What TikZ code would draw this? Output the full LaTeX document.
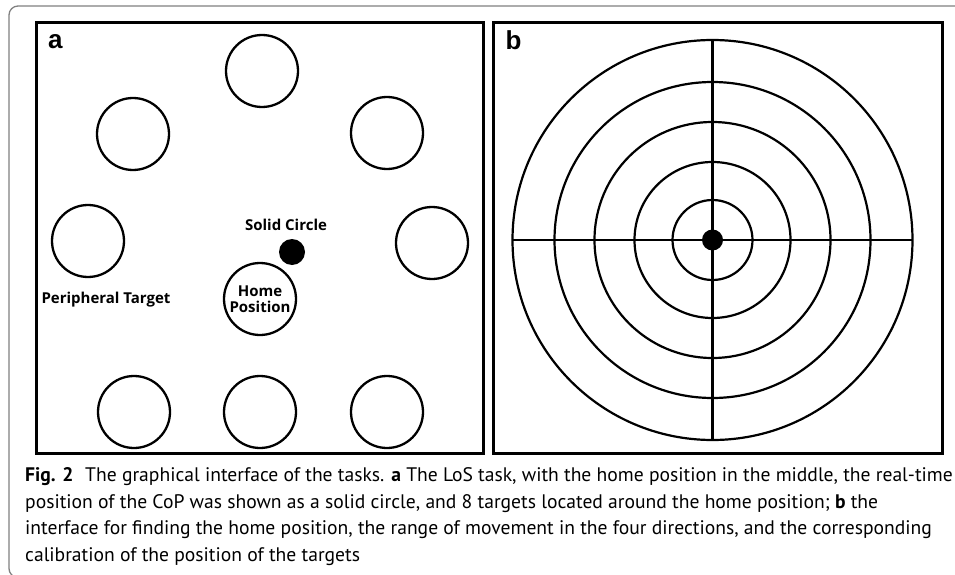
\documentclass[tikz,border=0pt]{standalone}
\usepackage{fontspec}
\setmainfont{PT Sans}
\newfontfamily\labelfont{Open Sans}
\newfontfamily\panelfont{Liberation Sans}
\usetikzlibrary{positioning}
\definecolor{framegray}{gray}{0.5}
\begin{document}
\begin{tikzpicture}[x=1pt,y=-1pt,
  target/.style={circle,draw,line width=2.3pt,minimum size=72pt,inner sep=0pt},
  tag/.style={font=\labelfont\bfseries\fontsize{15}{16.5}\selectfont,inner sep=0pt},
  letter/.style={anchor=base west,inner sep=0pt,font=\panelfont\bfseries\fontsize{26}{26}\selectfont},
  capline/.style={anchor=base west,inner sep=0pt,font=\fontsize{19.6}{22}\selectfont},
  ring/.style={line width=2.2pt}]
\useasboundingbox (0,0) rectangle (955,575);
\clip (0,0) rectangle (955,575);
\draw[framegray,line width=1.3pt,rounded corners=9pt] (975,6) -- (9,6) -- (9,577.5) -- (975,577.5);
% panel a
\draw[line width=3pt] (36,23) rectangle (483,453);
\node[letter] (la) at (48,49) {a};
\node[target] (t1) at (262,71) {};
\node[target] (t2) at (387,133) {};
\node[target] (t3) at (432,243) {};
\node[target] (t4) at (387,412) {};
\node[target] (t5) at (260,412) {};
\node[target] (t6) at (134,412) {};
\node[target] (t7) at (88,241) {};
\node[target] (t8) at (133,134) {};
\node[target,align=center,tag] (home) at (260,299) {Home\\Position};
\node[circle,fill,minimum size=26pt,inner sep=0pt] (cop) at (292,252) {};
\node[tag] (copl) at (286,225) {Solid Circle};
\node[tag] (tgtl) at (106,300) {Peripheral Target};
% panel b
\draw[line width=3pt] (493,23) rectangle (942,453);
\node[letter] (lb) at (505.5,50) {b};
\coordinate (c) at (712.5,240);
\foreach \r in {200,158,118,78,40}
  \draw[ring] (c) circle (\r);
\draw[line width=2.2pt] (512.5,240) -- (912.5,240);
\draw[line width=2.2pt] (712.5,40) -- (712.5,440);
\fill (c) circle (10.5);
% caption
\node[capline] (cap1) at (25,481.5) {\textbf{Fig. 2}\hspace{0.6em}The graphical interface of the tasks. \textbf{a} The LoS task, with the home position in the middle, the real-time};
\node[capline] (cap2) at (25,508.2) {position of the CoP was shown as a solid circle, and 8 targets located around the home position; \textbf{b} the};
\node[capline] (cap3) at (25,534.9) {interface for finding the home position, the range of movement in the four directions, and the corresponding};
\node[capline] (cap4) at (25,561.6) {calibration of the position of the targets};
\end{tikzpicture}
\end{document}
